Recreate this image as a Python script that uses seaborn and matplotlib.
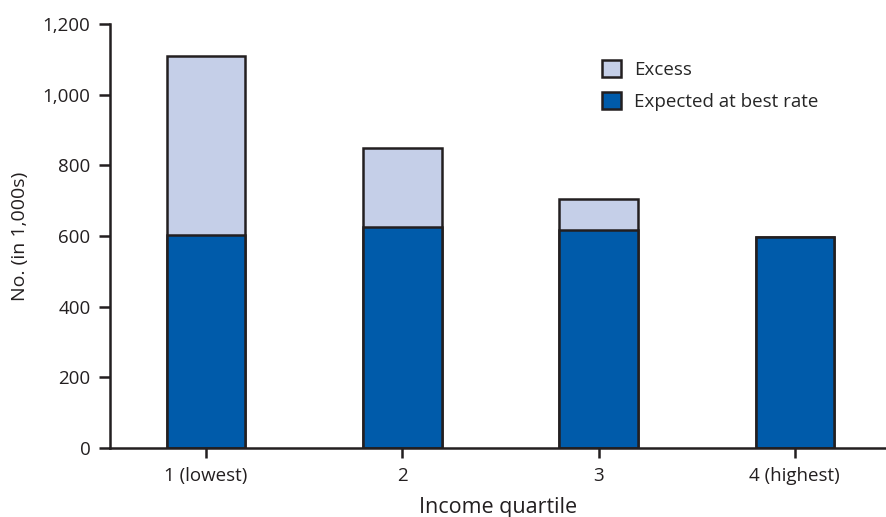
import matplotlib
matplotlib.use("Agg")
import matplotlib.pyplot as plt
import matplotlib.patches as mpatches
import pandas as pd
import seaborn as sns

# values in thousands
quartiles = ["1 (lowest)", "2", "3", "4 (highest)"]
expected = [603, 625, 617, 597]
excess = [506, 224, 88, 0]

EDGE = "#231F20"
DARK = "#005BAA"
LIGHT = "#C5CFE8"

df = pd.DataFrame({"quartile": quartiles, "expected": expected, "excess": excess})
df["total"] = df["expected"] + df["excess"]

sns.set_style("ticks")
plt.rcParams["font.family"] = ["Open Sans", "DejaVu Sans"]

fig = plt.figure(figsize=(8.87, 5.17), dpi=100)
ax = fig.add_axes([0.124, 0.1335, 0.876, 0.82])

sns.barplot(data=df, x="quartile", y="total", color=LIGHT, width=0.4,
            edgecolor=EDGE, linewidth=1.8, saturation=1, ax=ax)
sns.barplot(data=df, x="quartile", y="expected", color=DARK, width=0.4,
            edgecolor=EDGE, linewidth=1.8, saturation=1, ax=ax)

ax.set_ylim(0, 1200)
ax.set_xlim(-0.49, 3.47)
ax.set_yticks(range(0, 1201, 200))
ax.set_yticklabels([f"{v:,}" for v in range(0, 1201, 200)])
ax.set_xlabel("Income quartile", fontsize=15.5, color=EDGE, labelpad=8)
ax.set_ylabel("No. (in 1,000s)", fontsize=14, color=EDGE, labelpad=10)
ax.tick_params(axis="both", labelsize=13.5, colors=EDGE, width=1.8, length=8, pad=6)
ax.tick_params(axis="x", length=7, pad=7)

sns.despine(ax=ax, top=True, right=True)
for side in ["left", "bottom"]:
    ax.spines[side].set_linewidth(1.8)
    ax.spines[side].set_color(EDGE)

handles = [
    mpatches.Patch(facecolor=LIGHT, edgecolor=EDGE, linewidth=1.8, label="Excess"),
    mpatches.Patch(facecolor=DARK, edgecolor=EDGE, linewidth=1.8, label="Expected at best rate"),
]
ax.legend(handles=handles, loc="upper left", bbox_to_anchor=(0.612, 0.955),
          frameon=False, fontsize=13.5, handlelength=1.0, handleheight=1.0,
          labelspacing=0.7, handletextpad=0.7)

fig.savefig("out.png", dpi=100)
